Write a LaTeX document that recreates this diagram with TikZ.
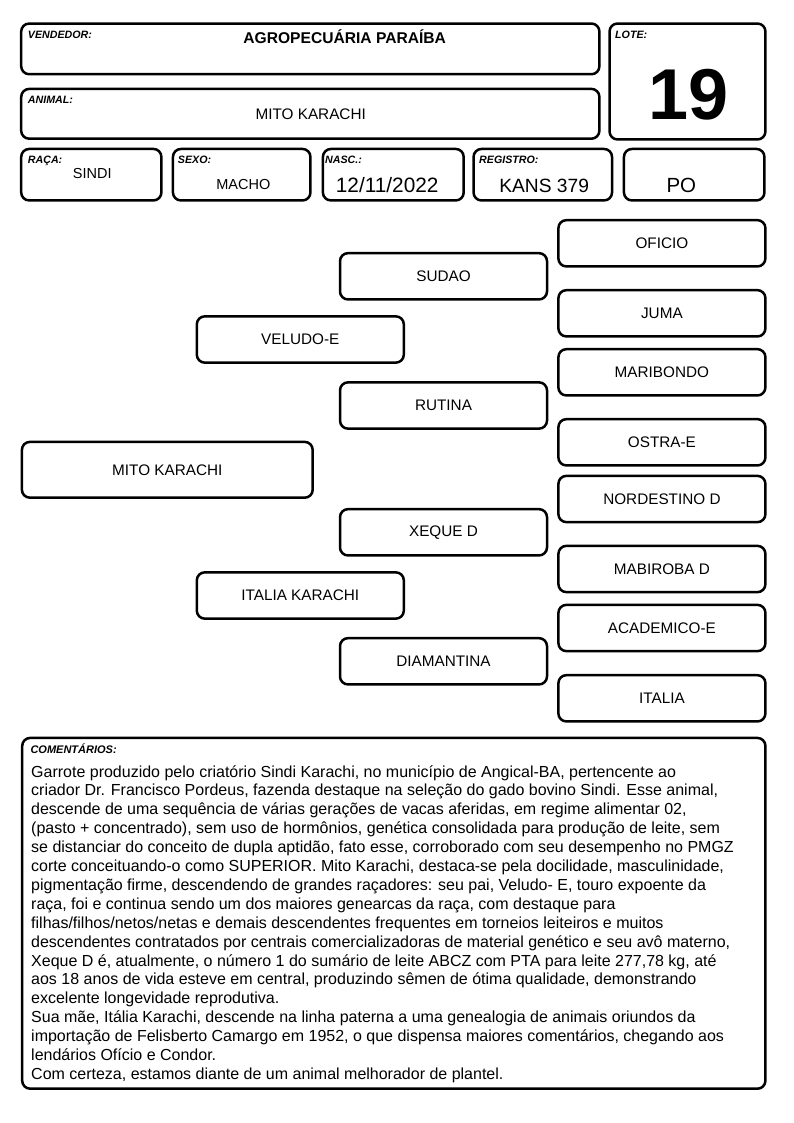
\documentclass[tikz,border=0pt]{standalone}
\usepackage{fontspec}
\setmainfont{Liberation Sans}
\usetikzlibrary{positioning}
\newcommand{\fsz}[2]{\fontsize{#1}{#2}\selectfont}

\begin{document}
\begin{tikzpicture}[x=1pt, y=-1pt,
  cell/.style={draw, line width=2.5pt, rounded corners=8pt, inner sep=0pt},
  ped/.style={cell, minimum width=207pt, minimum height=46.3pt, font=\fsz{15.3}{18}},
  tag/.style={anchor=base west, inner sep=0pt, font=\fsz{10.67}{12}\bfseries\itshape},
  val/.style={anchor=base, inner sep=0pt, font=\fsz{15.3}{18}}]
\useasboundingbox (0,0) rectangle (794,1123);

% cabecalho
\node[cell, minimum width=578.2pt, minimum height=50.7pt] (vend) at (310.3,48.9) {};
\node[cell, minimum width=578.2pt, minimum height=49.8pt] (animal) at (310.3,113.8) {};
\node[cell, minimum width=155.9pt, minimum height=115.9pt] (lote) at (687.5,81.5) {};
\node[cell, minimum width=140.2pt, minimum height=51.5pt] (raca) at (91.3,174.7) {};
\node[cell, minimum width=137.5pt, minimum height=51.5pt] (sexo) at (241.7,174.7) {};
\node[cell, minimum width=140.8pt, minimum height=51.5pt] (nasc) at (393.3,174.7) {};
\node[cell, minimum width=138.5pt, minimum height=51.5pt] (reg) at (542.8,174.7) {};
\node[cell, minimum width=140.5pt, minimum height=51.5pt] (po) at (694.2,174.7) {};

\node[tag] (vendT) at (27.7,38.3) {VENDEDOR:};
\node[tag] (animalT) at (27.7,103.3) {ANIMAL:};
\node[tag] (loteT) at (615,39) {LOTE:};
\node[tag] (racaT) at (27.7,164) {RAÇA:};
\node[tag] (sexoT) at (177.7,164) {SEXO:};
\node[tag] (nascT) at (325,164) {NASC.:};
\node[tag] (regT) at (479,164) {REGISTRO:};

\node[val, font=\fsz{15.6}{18}\bfseries] (vendV) at (344.7,43.3) {AGROPECUÁRIA PARAÍBA};
\node[val] (animalV) at (310.7,120) {MITO KARACHI};
\node[val, font=\fsz{72}{80}\bfseries] (loteV) at (688.8,119.3) {19};
\node[val, font=\fsz{14.5}{17}] (racaV) at (92.2,178.3) {SINDI};
\node[val, font=\fsz{14.5}{17}] (sexoV) at (243.3,190) {MACHO};
\node[val, font=\fsz{20.8}{24}] (nascV) at (387.2,192.3) {12/11/2022};
\node[val, font=\fsz{19.2}{22}] (regV) at (544.2,192.3) {KANS 379};
\node[val, font=\fsz{20.5}{22}] (poV) at (681.3,192.3) {PO};

% genealogia
\node[ped, minimum width=290.8pt, minimum height=55.8pt] (mito) at (167.3,469.8) {MITO KARACHI};
\node[ped] (veludo) at (300.3,339.5) {VELUDO-E};
\node[ped] (italiak) at (300.3,595.5) {ITALIA KARACHI};
\node[ped] (sudao) at (443.5,276.3) {SUDAO};
\node[ped] (rutina) at (443.5,405.5) {RUTINA};
\node[ped] (xeque) at (443.5,532.3) {XEQUE D};
\node[ped] (diamantina) at (443.5,661.3) {DIAMANTINA};
\node[ped] (oficio) at (661.9,243.3) {OFICIO};
\node[ped] (juma) at (661.9,313.3) {JUMA};
\node[ped] (maribondo) at (661.9,372.3) {MARIBONDO};
\node[ped] (ostra) at (661.9,442.3) {OSTRA-E};
\node[ped] (nordestino) at (661.9,499) {NORDESTINO D};
\node[ped] (mabiroba) at (661.9,569) {MABIROBA D};
\node[ped] (academico) at (661.9,628) {ACADEMICO-E};
\node[ped] (italia) at (661.9,698.3) {ITALIA};

% comentarios
\node[cell, minimum width=743.2pt, minimum height=350.8pt] (coment) at (393.8,913.3) {};
\node[tag, font=\fsz{11}{12}\bfseries\itshape] (comentT) at (30.3,753) {COMENTÁRIOS:};
\node[anchor=base west, inner sep=0pt] (comentV) at (31,777) {\parbox[t]{732pt}{\fsz{16}{18.9}\raggedright
Garrote produzido pelo criatório Sindi Karachi, no município de Angical-BA, pertencente ao\\
criador Dr. Francisco Pordeus, fazenda destaque na seleção do gado bovino Sindi. Esse animal,\\
descende de uma sequência de várias gerações de vacas aferidas, em regime alimentar 02,\\
(pasto + concentrado), sem uso de hormônios, genética consolidada para produção de leite, sem\\
se distanciar do conceito de dupla aptidão, fato esse, corroborado com seu desempenho no PMGZ\\
corte conceituando-o como SUPERIOR. Mito Karachi, destaca-se pela docilidade, masculinidade,\\
pigmentação firme, descendendo de grandes raçadores: seu pai, Veludo- E, touro expoente da\\
raça, foi e continua sendo um dos maiores genearcas da raça, com destaque para\\
filhas/filhos/netos/netas e demais descendentes frequentes em torneios leiteiros e muitos\\
descendentes contratados por centrais comercializadoras de material genético e seu avô materno,\\
Xeque D é, atualmente, o número 1 do sumário de leite ABCZ com PTA para leite 277,78 kg, até\\
aos 18 anos de vida esteve em central, produzindo sêmen de ótima qualidade, demonstrando\\
excelente longevidade reprodutiva.\\
Sua mãe, Itália Karachi, descende na linha paterna a uma genealogia de animais oriundos da\\
importação de Felisberto Camargo em 1952, o que dispensa maiores comentários, chegando aos\\
lendários Ofício e Condor.\\
Com certeza, estamos diante de um animal melhorador de plantel.}};
\end{tikzpicture}
\end{document}
